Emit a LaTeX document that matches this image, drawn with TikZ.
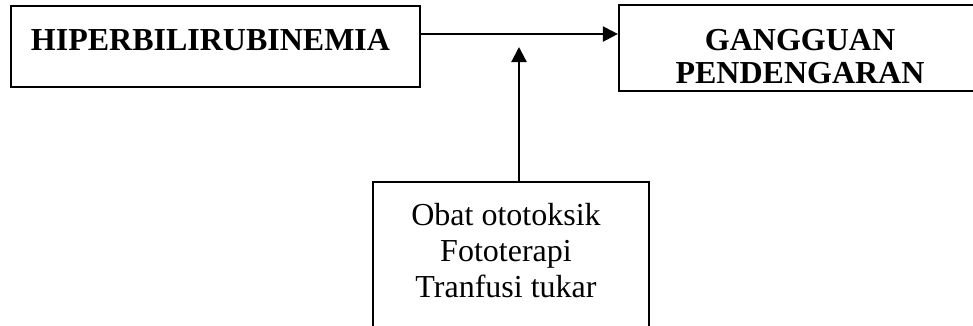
\documentclass[tikz,border=0pt]{standalone}
\usepackage{fontspec}
\setmainfont{Liberation Serif}
\usetikzlibrary{arrows.meta}
\begin{document}
\begin{tikzpicture}[x=1pt,y=1pt,
  boxnode/.style={draw,line width=2.2pt,inner sep=0pt,rectangle},
  txt/.style={inner sep=0pt,anchor=base,font=\fontsize{32}{36}\selectfont},
  btxt/.style={txt,font=\fontsize{32}{36}\selectfont\bfseries},
  conn/.style={line width=2.2pt,-{Triangle[length=15pt,width=15pt]}}]
\useasboundingbox (0,0) rectangle (973,-325);
\node[boxnode,minimum width=409pt,minimum height=81pt] (hb) at (215.5,-46.5) {};
\node[boxnode,minimum width=366pt,minimum height=86pt] (gp) at (802,-48) {};
\node[boxnode,minimum width=276pt,minimum height=158pt] (ob) at (511,-261) {};
\node[btxt] (t1) at (210.5,-50) {HIPERBILIRUBINEMIA};
\node[btxt] (t2) at (800,-50) {GANGGUAN};
\node[btxt] (t3) at (800,-83) {PENDENGARAN};
\node[txt] (t4) at (506,-225) {Obat ototoksik};
\node[txt] (t5) at (506,-261) {Fototerapi};
\node[txt] (t6) at (506,-297) {Tranfusi tukar};
\coordinate (j) at (519,-47);
\draw[conn] (hb.east |- 0,-34) -- (gp.west |- 0,-34);
\draw[conn] (ob.north -| j) -- (j);
\end{tikzpicture}
\end{document}
